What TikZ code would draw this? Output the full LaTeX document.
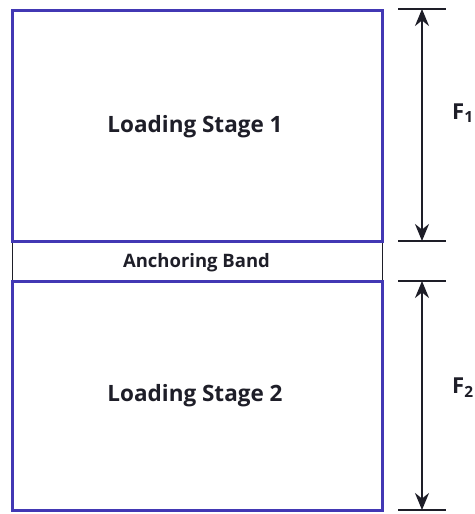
\documentclass[tikz,border=0pt]{standalone}
\usepackage{fontspec}
\setmainfont{Open Sans}
\usetikzlibrary{arrows.meta}
\definecolor{boxblue}{RGB}{66,56,180}
\definecolor{ink}{RGB}{30,30,40}
\begin{document}
\begin{tikzpicture}[x=1pt,y=-1pt,
  stage/.style={draw=boxblue,line width=3pt},
  band/.style={draw=ink,line width=1pt},
  lbl/.style={font=\bfseries\fontsize{22.5}{26}\selectfont,text=ink,inner sep=0pt},
  bar/.style={draw=ink,line width=1.8pt},
  dim/.style={draw=ink,line width=1.8pt,{Stealth[length=17pt,width=14pt]}-{Stealth[length=17pt,width=14pt]}}]
\useasboundingbox (0,0) rectangle (474,514);
\draw[band] (12,241) rectangle (382,281);
\draw[stage] (12,10) rectangle (382,241);
\draw[stage] (12,281) rectangle (382,510);
\node[lbl,anchor=base] (s1) at (195,132) {Loading Stage 1};
\node[lbl,anchor=base,font=\bfseries\fontsize{18.5}{22}\selectfont] (ab) at (196.5,267) {Anchoring Band};
\node[lbl,anchor=base] (s2) at (195,401) {Loading Stage 2};
\coordinate (t1) at (422,9);
\coordinate (b1) at (422,241);
\coordinate (t2) at (422,281);
\coordinate (b2) at (422,510);
\draw[bar] (398,9) -- (446,9);
\draw[bar] (398,241) -- (446,241);
\draw[bar] (398,281) -- (446,281);
\draw[bar] (398,510) -- (446,510);
\draw[dim] (t1) -- (b1);
\draw[dim] (t2) -- (b2);
\node[lbl,anchor=base west,font=\bfseries\fontsize{22}{24}\selectfont] (f1) at (452,119) {F\textsubscript{1}};
\node[lbl,anchor=base west,font=\bfseries\fontsize{22}{24}\selectfont] (f2) at (452,393) {F\textsubscript{2}};
\end{tikzpicture}
\end{document}
